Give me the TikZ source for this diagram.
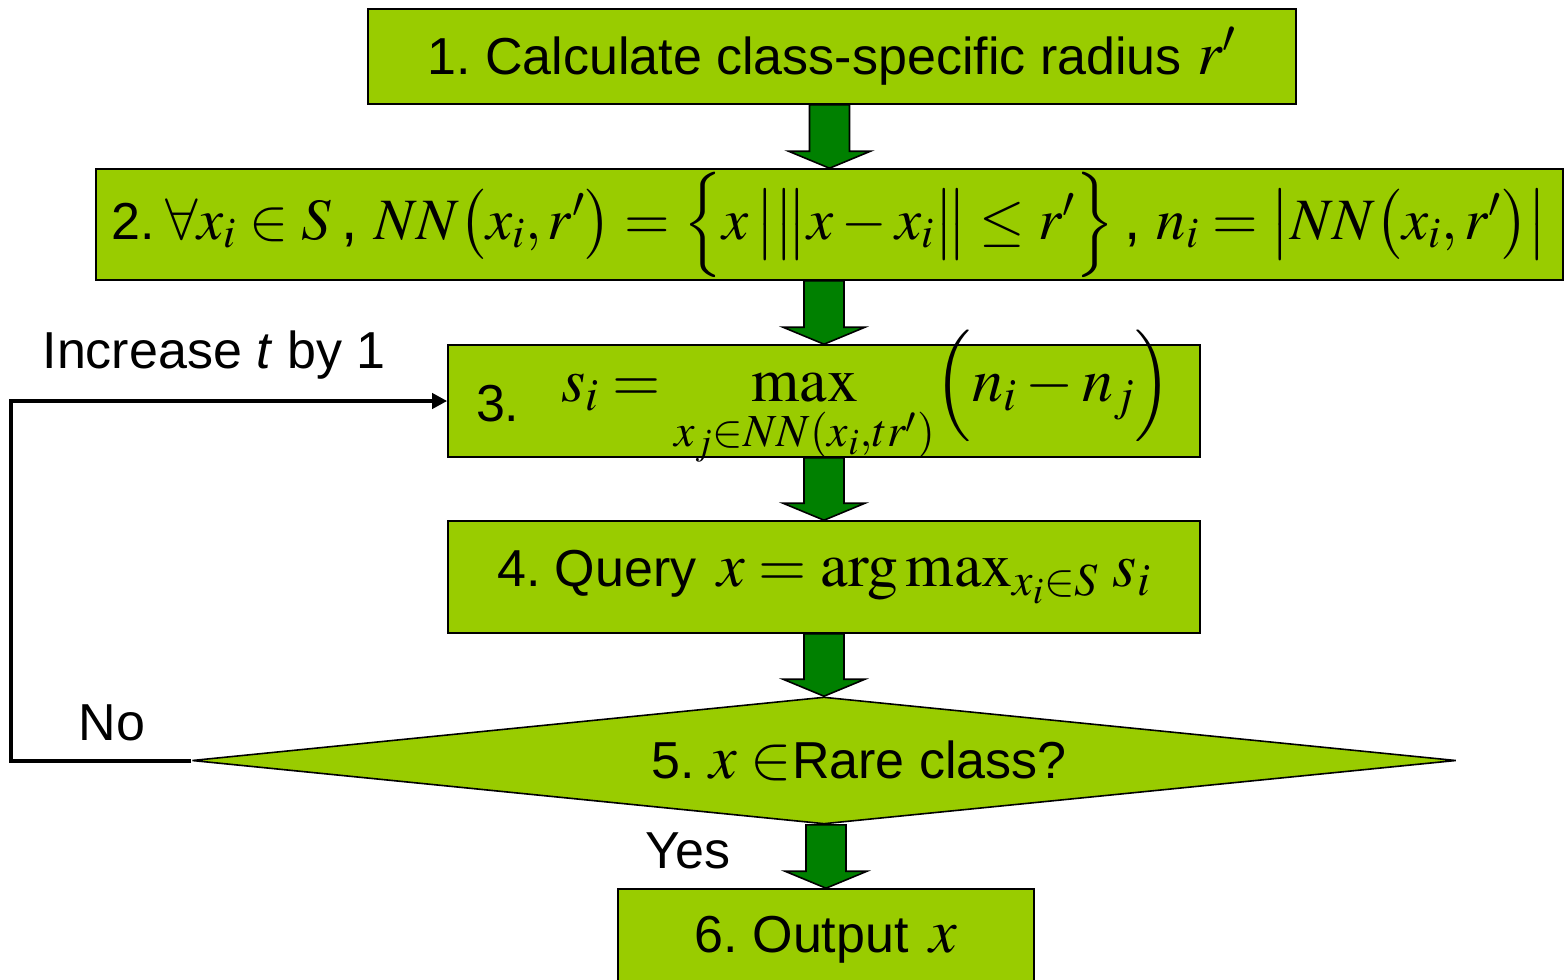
\documentclass[tikz,border=0pt]{standalone}
\usepackage{amsmath}
\usepackage{mathptmx}
\usepackage[no-math]{fontspec}
\setmainfont{Liberation Sans}
\usetikzlibrary{shapes.geometric,calc,arrows.meta}

\definecolor{boxgreen}{HTML}{99CC00}
\definecolor{arrowgreen}{HTML}{008000}
\newcommand{\mfs}{\fontsize{31}{36}\selectfont}
\newcommand{\mfssmall}{\fontsize{29.3}{34}\selectfont}
\frenchspacing
% fat green arrow from the bottom of #1 to the top of #2
\newcommand{\bigarrow}[2]{%
  \draw[fill=arrowgreen,line width=0.8pt,line join=miter]
    let \p1=(#1.south), \p2=(#2.north) in
    (\x2-10pt,\y1) -- (\x2+10pt,\y1) -- (\x2+10pt,\y2+8.5pt) -- (\x2+20.5pt,\y2+8.5pt)
    -- (\x2,\y2) -- (\x2-20.5pt,\y2+8.5pt) -- (\x2-10pt,\y2+8.5pt) -- cycle;}

\begin{document}
\begin{tikzpicture}[x=0.5pt,y=-0.5pt,>={Triangle[length=7.5pt,width=7.5pt]},
  every node/.style={font=\fontsize{26}{31}\selectfont},
  stepbox/.style={draw,fill=boxgreen,line width=0.8pt,inner sep=0pt}]
\useasboundingbox (0,0) rectangle (1564,980);

\node[stepbox,minimum width=464pt,minimum height=47.5pt] (b1) at (832,56.5) {1. Calculate class-specific radius\hspace{0.3em}{\mfs$r'$}};
\node[stepbox,minimum width=733.5pt,minimum height=55.5pt] (b2) at (829.5,224.5) {2.\hspace{0.2em}{\mfssmall$\forall x_i \in S$\,, $NN\bigl(x_i, r'\bigr) = \Bigl\{x\,\bigl|\bigl\|x - x_i\bigr\| \le r'\Bigr\}$\,, $n_i = \bigl|NN\bigl(x_i, r'\bigr)\bigr|$}};
\node[stepbox,minimum width=376pt,minimum height=56pt] (b3) at (824,401) {\smash{\raisebox{-10pt}{3.}\hspace{0.8em}{\mfs$\displaystyle s_i = \max_{x_j \in NN\left(x_i, tr'\right)} \Bigl(n_i - n_j\Bigr)$}}};
\node[stepbox,minimum width=376pt,minimum height=56pt] (b4) at (824,577) {4. Query\hspace{0.4em}{\mfs$x = \arg\max\nolimits_{x_i \in S}\, s_i$}};
\node[stepbox,shape=diamond,shape aspect=10,minimum width=632pt,minimum height=63.5pt] (d5) at (824,760.5) {\hspace*{35pt}5. {\mfs$x \in$}Rare class?};
\node[stepbox,minimum width=208pt,minimum height=51pt] (b6) at (826,940) {6. Output\hspace{0.4em}{\mfs$x$}};

\bigarrow{b1}{b2}
\bigarrow{b2}{b3}
\bigarrow{b3}{b4}
\bigarrow{b4}{d5}
\bigarrow{d5}{b6}

\node (inc) at (214,355) {Increase \textit{t} by 1};
\node (no) at (112,723) {No};
\node (yes) at (688,851) {Yes};
\draw[->,line width=2pt] (d5.west) -- ++(-180,0) |- (b3.west);
\end{tikzpicture}
\end{document}
